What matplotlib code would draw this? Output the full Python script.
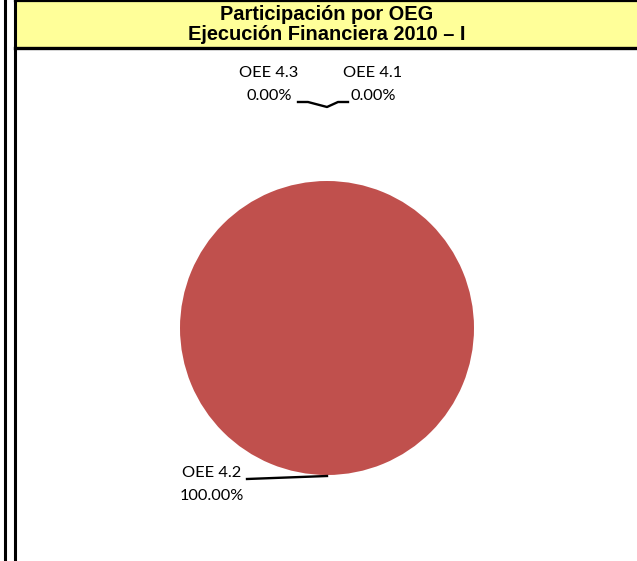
import matplotlib
matplotlib.use("Agg")
import matplotlib.pyplot as plt
from matplotlib.lines import Line2D
from matplotlib.patches import Rectangle

# data
categories = ["OEE 4.1", "OEE 4.2", "OEE 4.3"]
shares = [0.0, 100.0, 0.0]
title_lines = ["Participación por OEG", "Ejecución Financiera 2010 – I"]

W, H = 637, 561
fig = plt.figure(figsize=(W / 100, H / 100), dpi=100)
fig.patch.set_facecolor("white")


def fx(px):
    return px / W


def fy(py):
    return 1 - py / H


# header box and frame lines
fig.add_artist(Rectangle((fx(16), fy(47)), fx(W - 16), 45 / H,
                         transform=fig.transFigure, facecolor="#FFFF99",
                         edgecolor="none"))
for xs, ys, lw in [((5, 5), (0, H), 2.2), ((15, 15), (0, H), 2.2),
                   ((15, W), (0.8, 0.8), 1.6), ((15, W), (47.5, 47.5), 2.4)]:
    fig.add_artist(Line2D([fx(x) for x in xs], [fy(y) for y in ys],
                          transform=fig.transFigure, color="black", lw=lw))

for line, py in zip(title_lines, (14, 34)):
    fig.text(fx(327), fy(py), line, ha="center", va="center",
             fontsize=14.4, fontweight="bold", family="Liberation Sans")

# pie
cx, cy, r = 327, 328, 147
ax = fig.add_axes([fx(cx - r), 1 - (cy + r) / H, 2 * r / W, 2 * r / H])
ax.pie(shares, colors=["#C0504D"] * 3, startangle=90, counterclock=False,
       radius=1.0, wedgeprops=dict(linewidth=0))
ax.set_xlim(-1, 1)
ax.set_ylim(-1, 1)
ax.axis("off")


def d(px, py):
    return ((px - cx) / r, (cy - py) / r)


label_pos = {"OEE 4.1": (373, 73), "OEE 4.2": (212, 473), "OEE 4.3": (269, 73)}
for cat, val in zip(categories, shares):
    px, py = label_pos[cat]
    for txt, dy in ((cat, 0), (f"{val:.2f}%", 23)):
        x, y = d(px, py + dy)
        ax.text(x, y, txt, ha="center", va="center",
                fontsize=11.8, family="Lato", clip_on=False)

# leader lines
lx, ly = zip(*[d(298, 102), d(308, 102), d(327, 107), d(338, 102), d(348, 102)])
ax.plot(lx, ly, color="black", lw=1.7, clip_on=False)
lx, ly = zip(*[d(247, 479), d(327, 476)])
ax.plot(lx, ly, color="black", lw=1.7, clip_on=False)

fig.savefig("out.png", dpi=100, facecolor="white")
